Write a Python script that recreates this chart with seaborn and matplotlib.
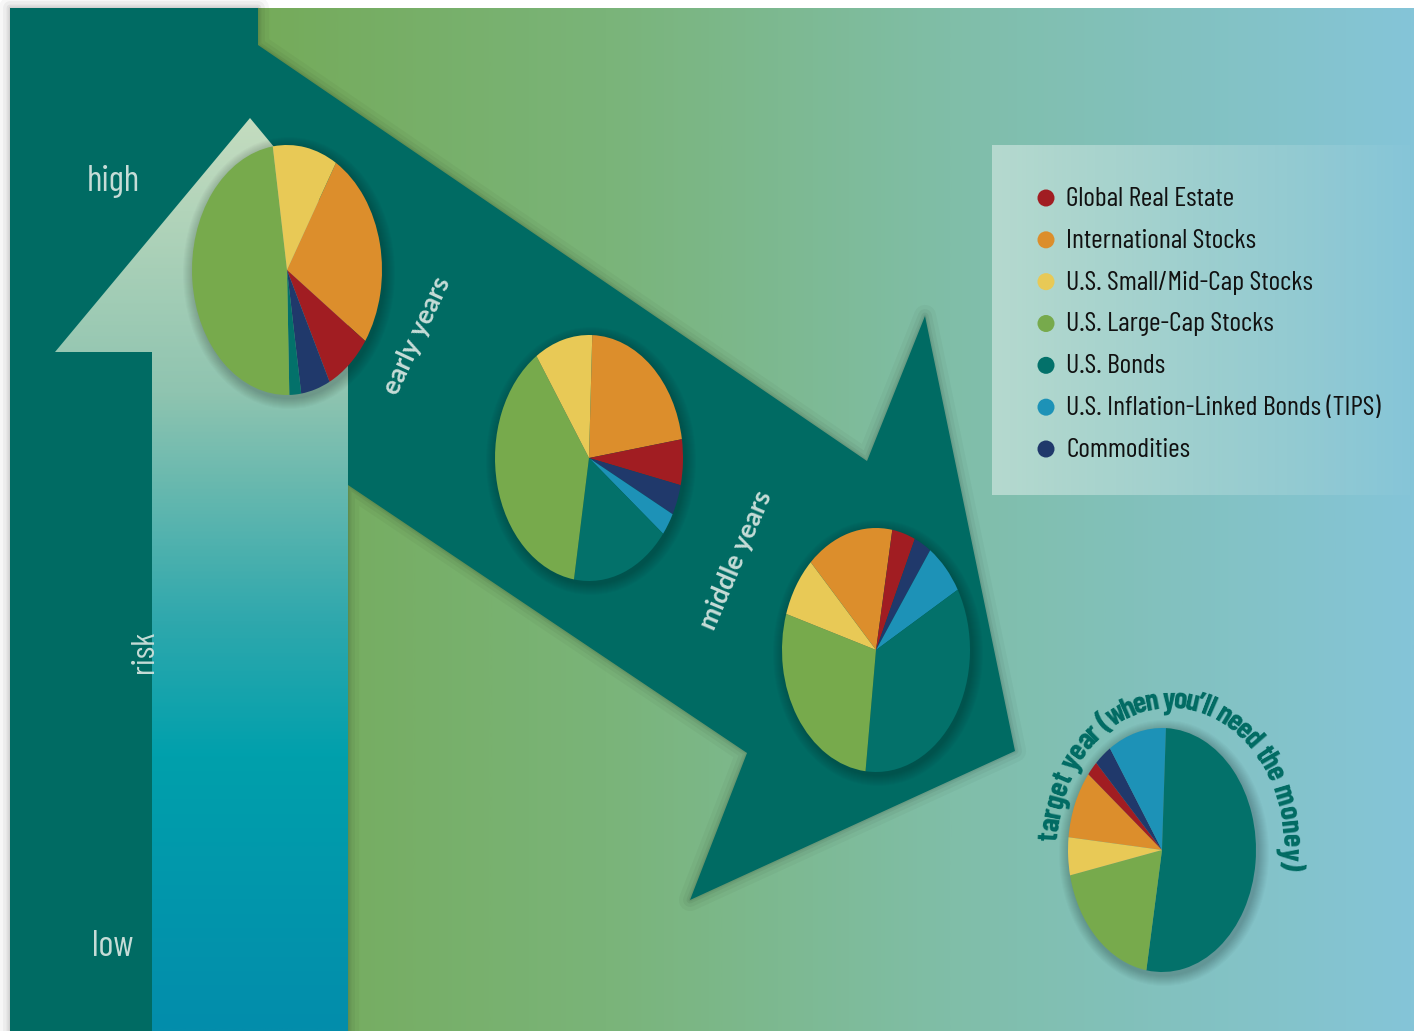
import numpy as np
import matplotlib
matplotlib.use('Agg')
import matplotlib.pyplot as plt
from matplotlib.patches import Polygon, Ellipse
from matplotlib.colors import LinearSegmentedColormap
import seaborn as sns

sns.set_theme(style='white')
plt.rcParams['font.family'] = ['Barlow Condensed', 'Archivo Narrow', 'DejaVu Sans']

# ---- data (percent of portfolio) ----
assets = ['Global Real Estate', 'International Stocks', 'U.S. Small/Mid-Cap Stocks',
          'U.S. Large-Cap Stocks', 'U.S. Bonds', 'U.S. Inflation-Linked Bonds (TIPS)',
          'Commodities']
asset_colors = ['#a11d22', '#dc8e2c', '#e8c956', '#77aa4c', '#03716a', '#1d92b7', '#20396b']
alloc_early = [8, 26, 11, 48, 2, 0, 5]
alloc_early_mid = [6, 22, 10, 38, 17, 3, 4]
alloc_middle = [4, 15, 8, 28, 35, 7, 3]
alloc_target = [2, 9, 5, 19, 52, 10, 3]
stage_labels = ['early years', 'middle years', 'target year (when you\u2019ll need the money)']
risk_labels = ['high', 'risk', 'low']

# wedges run clockwise in this order (indices into assets)
wedge_order = [1, 0, 6, 5, 4, 3, 2]

W, H = 1414, 1031
fig = plt.figure(figsize=(W / 100, H / 100), dpi=100)
fig.patch.set_facecolor('white')
bg = fig.add_axes([0, 0, 1, 1])
bg.set_xlim(0, W)
bg.set_ylim(H, 0)
bg.axis('off')

DARK = '#006b63'
PALE = '#c6dcd7'

# background gradient (green -> light blue)
bg_cmap = LinearSegmentedColormap.from_list(
    'bg', [(0, '#75ab5a'), (0.3, '#7ab479'), (0.6, '#80bea8'), (1, '#85c5d8')])
bg.imshow(np.linspace(0, 1, 512)[None, :], cmap=bg_cmap, extent=[258, W, H, 8],
          aspect='auto', zorder=0)

# dark column + diagonal arrow, with a soft edge shadow
dark_pts = [(10, 8), (258, 8), (258, 45), (867, 461), (925, 316), (1015, 751),
            (690, 900), (747, 753), (348, 485), (348, H), (10, H)]
for lw, a in [(16, 0.03), (10, 0.04), (5, 0.05), (2, 0.06)]:
    bg.add_patch(Polygon(dark_pts, closed=True, fill=False, edgecolor=(0, 0, 0, a),
                         lw=lw, joinstyle='round', zorder=1))
bg.add_patch(Polygon(dark_pts, closed=True, facecolor=DARK, edgecolor='none', zorder=2))

# light "risk" arrow with a vertical gradient
risk_pts = [(152, H), (152, 352), (55, 352), (250, 118), (348, 236), (348, H)]
risk_poly = Polygon(risk_pts, closed=True, facecolor='none', edgecolor='none', zorder=3)
bg.add_patch(risk_poly)
risk_cmap = LinearSegmentedColormap.from_list(
    'risk', [(0, '#c4dcbf'), (0.3, '#8fc4b0'), (0.55, '#2fa8ad'), (0.7, '#00a0ac'),
             (1, '#038dab')])
im = bg.imshow(np.linspace(0, 1, 512)[:, None], cmap=risk_cmap, extent=[55, 348, H, 118],
               aspect='auto', zorder=3)
im.set_clip_path(risk_poly)

# legend panel
rgba = np.ones((1, 256, 4))
rgba[0, :, 3] = np.linspace(0.42, 0.02, 256)
bg.imshow(rgba, extent=[992, W - 4, 495, 145], aspect='auto', zorder=4)

legend_y = np.linspace(198, 449, len(assets))
sns.scatterplot(x=[1046] * len(assets), y=legend_y, hue=assets, palette=asset_colors,
                s=150, linewidth=0, legend=False, ax=bg, zorder=5)
bg.set_xlim(0, W)
bg.set_ylim(H, 0)
for name, y in zip(assets, legend_y):
    bg.text(1066, y + 1, name, fontsize=20, color='#111111', va='center', ha='left', zorder=6)

# risk labels
bg.text(113, 181, risk_labels[0], fontsize=26, color=PALE, ha='center', va='center', zorder=6)
bg.text(145, 652, risk_labels[1], fontsize=24, color=PALE, ha='center', va='center',
        rotation=90, zorder=6)
bg.text(113, 946, risk_labels[2], fontsize=26, color=PALE, ha='center', va='center', zorder=6)

# stage labels along the arrow
bg.text(417, 336, stage_labels[0], fontsize=19, family='Lato', fontweight='bold',
        color=PALE, rotation=65, ha='center', va='center', rotation_mode='anchor', zorder=6)
bg.text(736, 560, stage_labels[1], fontsize=19, family='Lato', fontweight='bold',
        color=PALE, rotation=67, ha='center', va='center', rotation_mode='anchor', zorder=6)

# curved label round the last pie
renderer = fig.canvas.get_renderer()
arc_kw = dict(fontsize=22, fontweight='bold', color=DARK)


def text_w(s):
    t = bg.text(0, 0, s, **arc_kw)
    w = t.get_window_extent(renderer=renderer).width
    t.remove()
    return w


base = text_w('||')
widths = [text_w('|' + ch + '|') - base for ch in stage_labels[2]]
cum = np.cumsum([0] + widths)
centers = (cum[:-1] + cum[1:]) / 2 / cum[-1]
acx, acy, arx, ary = 1170, 846, 112, 138
a0, a1 = -88, 100
for ch, f in zip(stage_labels[2], centers):
    th = np.radians(a0 + f * (a1 - a0))
    x = acx + arx * np.sin(th)
    y = acy - ary * np.cos(th)
    rot = np.degrees(np.arctan2(-ary * np.sin(th), arx * np.cos(th)))
    bg.text(x, y, ch, rotation=rot, rotation_mode='anchor', ha='center', va='baseline',
            zorder=6, **arc_kw)

# pies (elliptical, as in the original)
pies = [(alloc_early, 287, 270, 95, 125, 31),
        (alloc_early_mid, 589, 458, 94, 123, 2),
        (alloc_middle, 876, 650, 94, 122, 316),
        (alloc_target, 1162, 850, 94, 122, 276)]
pal = sns.color_palette(asset_colors)
for vals, cx, cy, rx, ry, start in pies:
    for k in range(1, 12):
        bg.add_patch(Ellipse((cx + 2, cy + 3), 2 * rx + 2 * k, 2 * ry + 2 * k,
                             facecolor=(0, 0, 0, 0.02), edgecolor='none', zorder=5))
    ax = fig.add_axes([(cx - rx) / W, 1 - (cy + ry) / H, 2 * rx / W, 2 * ry / H])
    ax.pie([vals[i] for i in wedge_order], colors=[pal[i] for i in wedge_order],
           startangle=90 - start, counterclock=False, radius=1,
           wedgeprops=dict(linewidth=0))
    ax.set_aspect('auto')
    ax.set_xlim(-1, 1)
    ax.set_ylim(-1, 1)
    ax.axis('off')

fig.savefig('out.png', dpi=100, facecolor='white')
